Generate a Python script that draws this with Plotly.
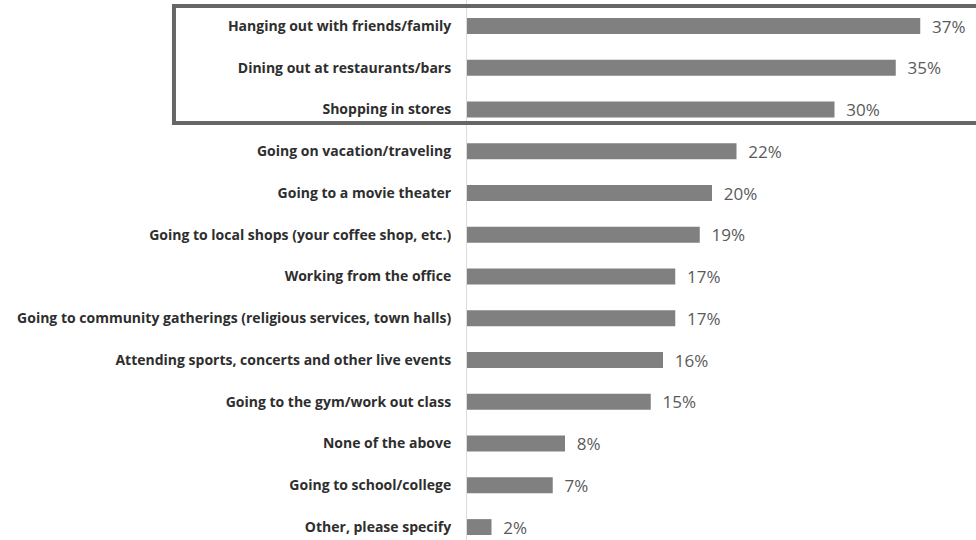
import plotly.graph_objects as go

categories = [
    "Hanging out with friends/family",
    "Dining out at restaurants/bars",
    "Shopping in stores",
    "Going on vacation/traveling",
    "Going to a movie theater",
    "Going to local shops (your coffee shop, etc.)",
    "Working from the office",
    "Going to community gatherings (religious services, town halls)",
    "Attending sports, concerts and other live events",
    "Going to the gym/work out class",
    "None of the above",
    "Going to school/college",
    "Other, please specify",
]
values = [37, 35, 30, 22, 20, 19, 17, 17, 16, 15, 8, 7, 2]

fig = go.Figure(go.Bar(
    x=values,
    y=categories,
    orientation="h",
    marker=dict(color="#808080", line=dict(width=0)),
    text=[f"{v}%" for v in values],
    texttemplate="  %{text}",
    textposition="outside",
    constraintext="none",
    textfont=dict(family="Open Sans", size=17, color="#5a5a5a"),
    cliponaxis=False,
    hoverinfo="skip",
))

fig.update_layout(
    width=976,
    height=540,
    margin=dict(l=467, r=19, t=0, b=0),
    paper_bgcolor="white",
    plot_bgcolor="white",
    bargap=0.62,
    showlegend=False,
    xaxis=dict(range=[0, 40], visible=False, fixedrange=True),
    yaxis=dict(
        type="category",
        categoryorder="array",
        categoryarray=categories,
        range=[12.31, -0.623],
        showline=True,
        linecolor="#dcdcdc",
        linewidth=1,
        showgrid=False,
        ticks="",
        ticklabelstandoff=12,
        tickfont=dict(family="Open Sans", size=14, color="#2e2e2e", weight="bold"),
        fixedrange=True,
    ),
    shapes=[dict(
        type="rect",
        xref="paper", yref="y",
        x0=-0.598, x1=1.047,
        y0=-0.479, y1=2.323,
        line=dict(color="#666666", width=4),
        fillcolor="rgba(0,0,0,0)",
        layer="above",
    )],
)

fig.write_html(
    "out.html",
    config={"displayModeBar": False},
    post_script="document.body.style.margin='0';document.body.style.overflow='hidden';",
)
